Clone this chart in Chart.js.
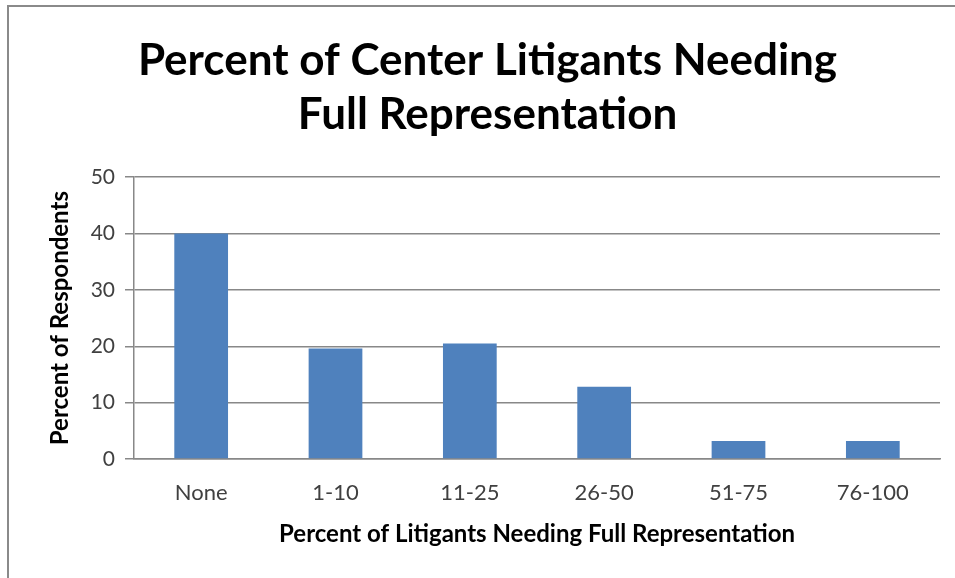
<!DOCTYPE html>
<html>
<head>
<meta charset="utf-8">
<script src="https://cdn.jsdelivr.net/npm/chart.js@4.4.1/dist/chart.umd.min.js"></script>
<style>
    html, body { margin: 0; padding: 0; background: #fff; }
    #wrap { position: relative; width: 955px; height: 578px; }
    #frame {
        position: absolute; left: 7px; top: 5px; right: -10px; bottom: -10px;
        border-top: 2px solid #8a8a8a; border-left: 2px solid #8a8a8a;
        pointer-events: none;
    }
</style>
</head>
<body>
<div id="wrap">
    <canvas id="litigantsChart" width="955" height="578"></canvas>
    <div id="frame"></div>
</div>
<script>
const categories = ['None', '1-10', '11-25', '26-50', '51-75', '76-100'];
const respondents = [40, 19.6, 20.5, 12.8, 3.2, 3.2];
const yTicks = [0, 10, 20, 30, 40, 50];

const fontFamily = 'Lato, "Open Sans", sans-serif';
const gridGray = '#888888';

const ctx = document.getElementById('litigantsChart').getContext('2d');

new Chart(ctx, {
    type: 'bar',
    data: {
        labels: categories,
        datasets: [{
            label: 'Percent of Respondents',
            data: respondents,
            backgroundColor: '#4f81bd',
            borderWidth: 0,
            barPercentage: 0.4,
            categoryPercentage: 1
        }]
    },
    options: {
        responsive: false,
        animation: false,
        layout: {
            // left padding keeps the title centred like the original
            padding: { left: 35, right: 15, top: 0, bottom: 0 }
        },
        plugins: {
            legend: { display: false },
            tooltip: { enabled: false },
            title: {
                display: true,
                text: ['Percent of Center Litigants Needing', 'Full Representation'],
                color: '#000',
                font: { family: fontFamily, size: 44, weight: 'bold', lineHeight: 1.23 },
                padding: { top: 34, bottom: 35 }
            }
        },
        scales: {
            x: {
                grid: { display: false, drawTicks: false },
                border: { color: gridGray, width: 1.5 },
                ticks: {
                    color: '#404040',
                    padding: 21,
                    font: { family: fontFamily, size: 22 }
                },
                title: {
                    display: true,
                    text: 'Percent of Litigants Needing Full Representation',
                    color: '#000',
                    font: { family: fontFamily, size: 24, weight: 'bold', lineHeight: 1.2 },
                    padding: { top: 0, bottom: 29 }
                },
                afterFit: (scale) => { scale.height = 119; }
            },
            y: {
                min: 0,
                max: 50,
                afterBuildTicks: (scale) => {
                    scale.ticks = yTicks.map(v => ({ value: v }));
                },
                grid: {
                    color: gridGray,
                    lineWidth: 1.5,
                    drawTicks: true,
                    tickLength: 9
                },
                border: { color: gridGray, width: 1.5 },
                ticks: {
                    color: '#404040',
                    padding: 10,
                    font: { family: fontFamily, size: 21 }
                },
                title: {
                    display: true,
                    text: 'Percent of Respondents',
                    color: '#000',
                    font: { family: fontFamily, size: 24, weight: 'bold', lineHeight: 1.2 },
                    padding: { top: 11, bottom: 0 }
                },
                afterFit: (scale) => { scale.width = 99; }
            }
        }
    }
});
</script>
</body>
</html>
